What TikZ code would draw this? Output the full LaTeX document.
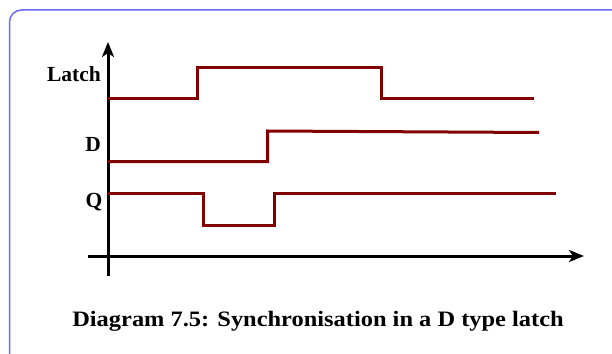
\documentclass[tikz,border=0pt]{standalone}
\usepackage{fontspec}
\setmainfont{Liberation Serif}
\usetikzlibrary{arrows.meta}
\definecolor{framecol}{RGB}{105,105,255}
\definecolor{sigcol}{RGB}{128,0,0}
\tikzset{
  signal/.style={draw=sigcol, line width=3pt, line join=miter},
  axis/.style={draw=black, line width=3pt, -{Stealth[length=15pt, width=12pt, inset=4pt]}},
  siglabel/.style={anchor=base east, inner sep=0pt, font=\bfseries\fontsize{21.5}{24}\selectfont},
  caption/.style={anchor=base, inner sep=0pt, xscale=1.11, font=\bfseries\fontsize{22}{26}\selectfont}
}
\begin{document}
\begin{tikzpicture}[x=1pt, y=-1pt]
  \useasboundingbox (0,0) rectangle (612,353);
  \clip (0,0) rectangle (612,353);
  % outer frame
  \draw[framecol, line width=1.5pt, rounded corners=12pt] (9.5,10) rectangle (630,370);
  % axes
  \coordinate (vb) at (108,276);
  \coordinate (vt) at (108,42);
  \coordinate (hl) at (88,256);
  \coordinate (hr) at (584,256);
  \draw[axis] (vb) -- (vt);
  \draw[axis] (hl) -- (hr);
  % labels
  \node[siglabel] (lLatch) at (101,81.7) {Latch};
  \node[siglabel] (lD) at (101,151) {D};
  \node[siglabel] (lQ) at (102.5,207) {Q};
  % waveforms
  \draw[signal] (108,98) -- (197.5,98) -- (197.5,67) -- (381,67) -- (381,98) -- (533.5,98);
  \draw[signal] (108,161.5) -- (267.5,161.5) -- (267.5,131) -- (539,132.5);
  \draw[signal] (108,193.5) -- (203.5,193.5) -- (203.5,225) -- (274.5,225) -- (274.5,193.5) -- (555.5,193.5);
  % caption
  \node[caption] (cap) at (318,326.7) {Diagram 7.5: Synchronisation in a D type latch};
\end{tikzpicture}
\end{document}
